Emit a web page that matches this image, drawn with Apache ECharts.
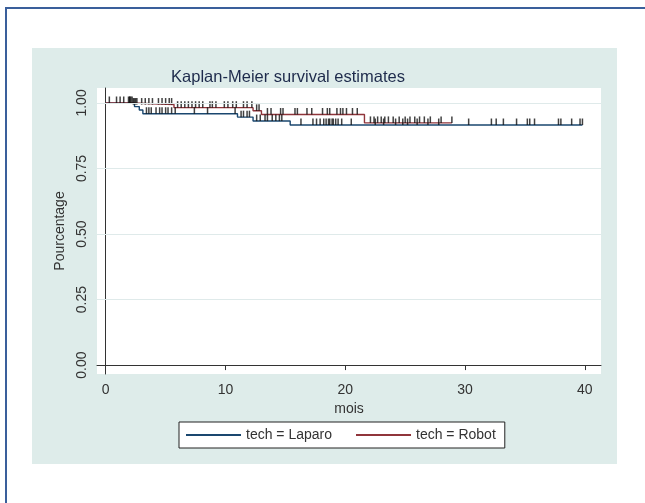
<!DOCTYPE html>
<html>
<head>
<meta charset="utf-8">
<script src="https://cdn.jsdelivr.net/npm/echarts@6/dist/echarts.min.js"></script>
<style>
  html, body { margin: 0; padding: 0; background: #fff; }
  #chart { width: 645px; height: 503px; }
</style>
</head>
<body>
<div id="chart"></div>
<script>
// survival steps (time in months, survival after the drop)
const laparoTimes = [0, 2.4, 2.8, 3.1, 11.0, 12.3, 15.4]
const laparoSurv = [1, 0.986, 0.973, 0.959, 0.946, 0.931, 0.916]
const laparoEnd = 39.8
const laparoCensor = [2.0, 2.2, 3.4, 3.6, 3.8, 4.2, 4.5, 4.7, 5.0, 5.2, 5.5, 5.8, 7.4, 8.5, 10.8,
  11.3, 11.5, 11.8, 12.0, 12.6, 12.9, 13.3, 13.5, 13.9, 14.2, 14.5, 14.7,
  16.3, 17.3, 17.6, 17.9, 18.2, 18.4, 18.6, 18.7, 18.9, 19.0, 19.2, 19.4, 19.7, 20.5,
  22.5, 23.2, 24.2, 24.8, 25.2, 26.0, 26.9, 27.8, 30.3, 32.2, 32.6, 33.2, 34.3,
  35.2, 35.4, 35.8, 37.8, 38.0, 38.9, 39.6, 39.8]

const robotTimes = [0, 2.2, 5.7, 12.3, 13.0, 21.6]
const robotSurv = [1, 0.994, 0.982, 0.970, 0.956, 0.924]
const robotEnd = 28.9
const robotCensor = [0.3, 0.9, 1.2, 1.5, 1.9, 2.0, 2.1, 2.3, 2.4, 2.5, 2.6, 3.0, 3.3, 3.6, 3.9,
  4.4, 4.7, 5.0, 5.3, 5.5, 6.0, 6.3, 6.6, 6.9, 7.2, 7.5, 7.8, 8.1, 8.7, 8.9, 9.2, 9.9,
  10.2, 10.6, 10.9, 11.5, 11.8, 12.2, 12.6, 12.8, 13.5, 13.8, 14.6, 14.8, 15.8, 16.0,
  16.8, 17.2, 18.1, 18.5, 18.7, 19.3, 19.6, 19.8, 20.1, 20.6, 21.0,
  22.1, 22.4, 22.7, 23.0, 23.3, 23.6, 24.0, 24.5, 25.0, 25.4, 25.8, 26.2, 26.6, 27.1, 28.0, 28.9]

const xTicks = [0, 10, 20, 30, 40]
const yTicks = [0, 0.25, 0.5, 0.75, 1]

const FONT = 'Liberation Sans, Arial, sans-serif'

function stepData(times, surv, end) {
    const pts = times.map((t, i) => [t, surv[i]])
    pts.push([end, surv[surv.length - 1]])
    return pts
}

function survAt(times, surv, t) {
    let s = surv[0]
    times.forEach((tt, i) => { if (tt <= t) s = surv[i] })
    return s
}

const chart = echarts.init(document.getElementById('chart'))

const option = {
    animation: false,
    backgroundColor: '#fff',
    graphic: [
        // panel
        { type: 'rect', z: -10, shape: { x: 32, y: 48, width: 585, height: 416 }, style: { fill: '#deecea' } },
        // outer frame
        { type: 'rect', z: -5, shape: { x: 5, y: 7, width: 640, height: 2 }, style: { fill: '#3a5f9b' } },
        { type: 'rect', z: -5, shape: { x: 5, y: 7, width: 2, height: 496 }, style: { fill: '#3a5f9b' } }
    ],
    title: {
        text: 'Kaplan-Meier survival estimates',
        left: 283,
        top: 64,
        textAlign: 'center',
        textStyle: { fontFamily: FONT, fontSize: 16.5, fontWeight: 'normal', color: '#1e2b4c' }
    },
    grid: {
        left: 97, right: 44, top: 88, bottom: 129,
        show: true, backgroundColor: '#fff', borderWidth: 0
    },
    legend: {
        left: 179,
        top: 422,
        orient: 'horizontal',
        backgroundColor: '#fff',
        borderColor: '#222',
        borderWidth: 1,
        borderRadius: 0,
        padding: [6, 9, 6, 7],
        itemGap: 24,
        itemWidth: 55,
        itemHeight: 2,
        textStyle: { fontFamily: FONT, fontSize: 14, color: '#333' },
        data: [
            { name: 'tech = Laparo', icon: 'rect' },
            { name: 'tech = Robot', icon: 'rect' }
        ]
    },
    xAxis: {
        type: 'value',
        min: -0.73,
        max: 41.35,
        name: 'mois',
        nameLocation: 'middle',
        nameGap: 28,
        nameTextStyle: { fontFamily: FONT, fontSize: 14, color: '#333' },
        axisLine: { show: true, lineStyle: { color: '#333', width: 1 } },
        axisTick: { show: true, length: 5, customValues: xTicks, lineStyle: { color: '#333' } },
        axisLabel: { customValues: xTicks, margin: 9, fontFamily: FONT, fontSize: 14, color: '#333' },
        splitLine: { show: false }
    },
    yAxis: {
        type: 'value',
        min: -0.034,
        max: 1.057,
        name: 'Pourcentage',
        nameLocation: 'middle',
        nameGap: 30,
        nameRotate: 90,
        nameTextStyle: { fontFamily: FONT, fontSize: 14, color: '#333' },
        axisLine: { show: true, lineStyle: { color: '#333', width: 1 } },
        axisTick: { show: true, length: 5, customValues: yTicks, lineStyle: { color: '#333' } },
        axisLabel: {
            customValues: yTicks, rotate: 90, margin: 8,
            fontFamily: FONT, fontSize: 14, color: '#333',
            formatter: v => v.toFixed(2)
        },
        splitLine: { show: false }
    },
    series: [
        {
            name: 'grid',
            type: 'line',
            data: [],
            z: 1,
            silent: true,
            markLine: {
                silent: true,
                symbol: 'none',
                label: { show: false },
                lineStyle: { color: '#dfeaea', width: 1, type: 'solid' },
                data: yTicks.slice(1).map(v => ({ yAxis: v }))
            }
        },
        {
            name: 'tech = Laparo',
            type: 'line',
            step: 'end',
            z: 3,
            showSymbol: false,
            data: stepData(laparoTimes, laparoSurv, laparoEnd),
            lineStyle: { color: '#1a476f', width: 1.4 },
            itemStyle: { color: '#1a476f' }
        },
        {
            name: 'tech = Robot',
            type: 'line',
            step: 'end',
            z: 3,
            showSymbol: false,
            data: stepData(robotTimes, robotSurv, robotEnd),
            lineStyle: { color: '#90353b', width: 1.4 },
            itemStyle: { color: '#90353b' }
        },
        {
            name: 'censor Laparo',
            type: 'scatter',
            z: 4,
            symbol: 'rect',
            symbolSize: [1.5, 6.5],
            symbolOffset: [0, -3.2],
            itemStyle: { color: '#111', opacity: 0.8 },
            data: laparoCensor.map(t => [t, survAt(laparoTimes, laparoSurv, t)])
        },
        {
            name: 'censor Robot',
            type: 'scatter',
            z: 4,
            symbol: 'rect',
            symbolSize: [1.5, 6.5],
            symbolOffset: [0, -3.2],
            itemStyle: { color: '#111', opacity: 0.8 },
            data: robotCensor.map(t => [t, survAt(robotTimes, robotSurv, t)])
        }
    ]
}

chart.setOption(option)
</script>
</body>
</html>
